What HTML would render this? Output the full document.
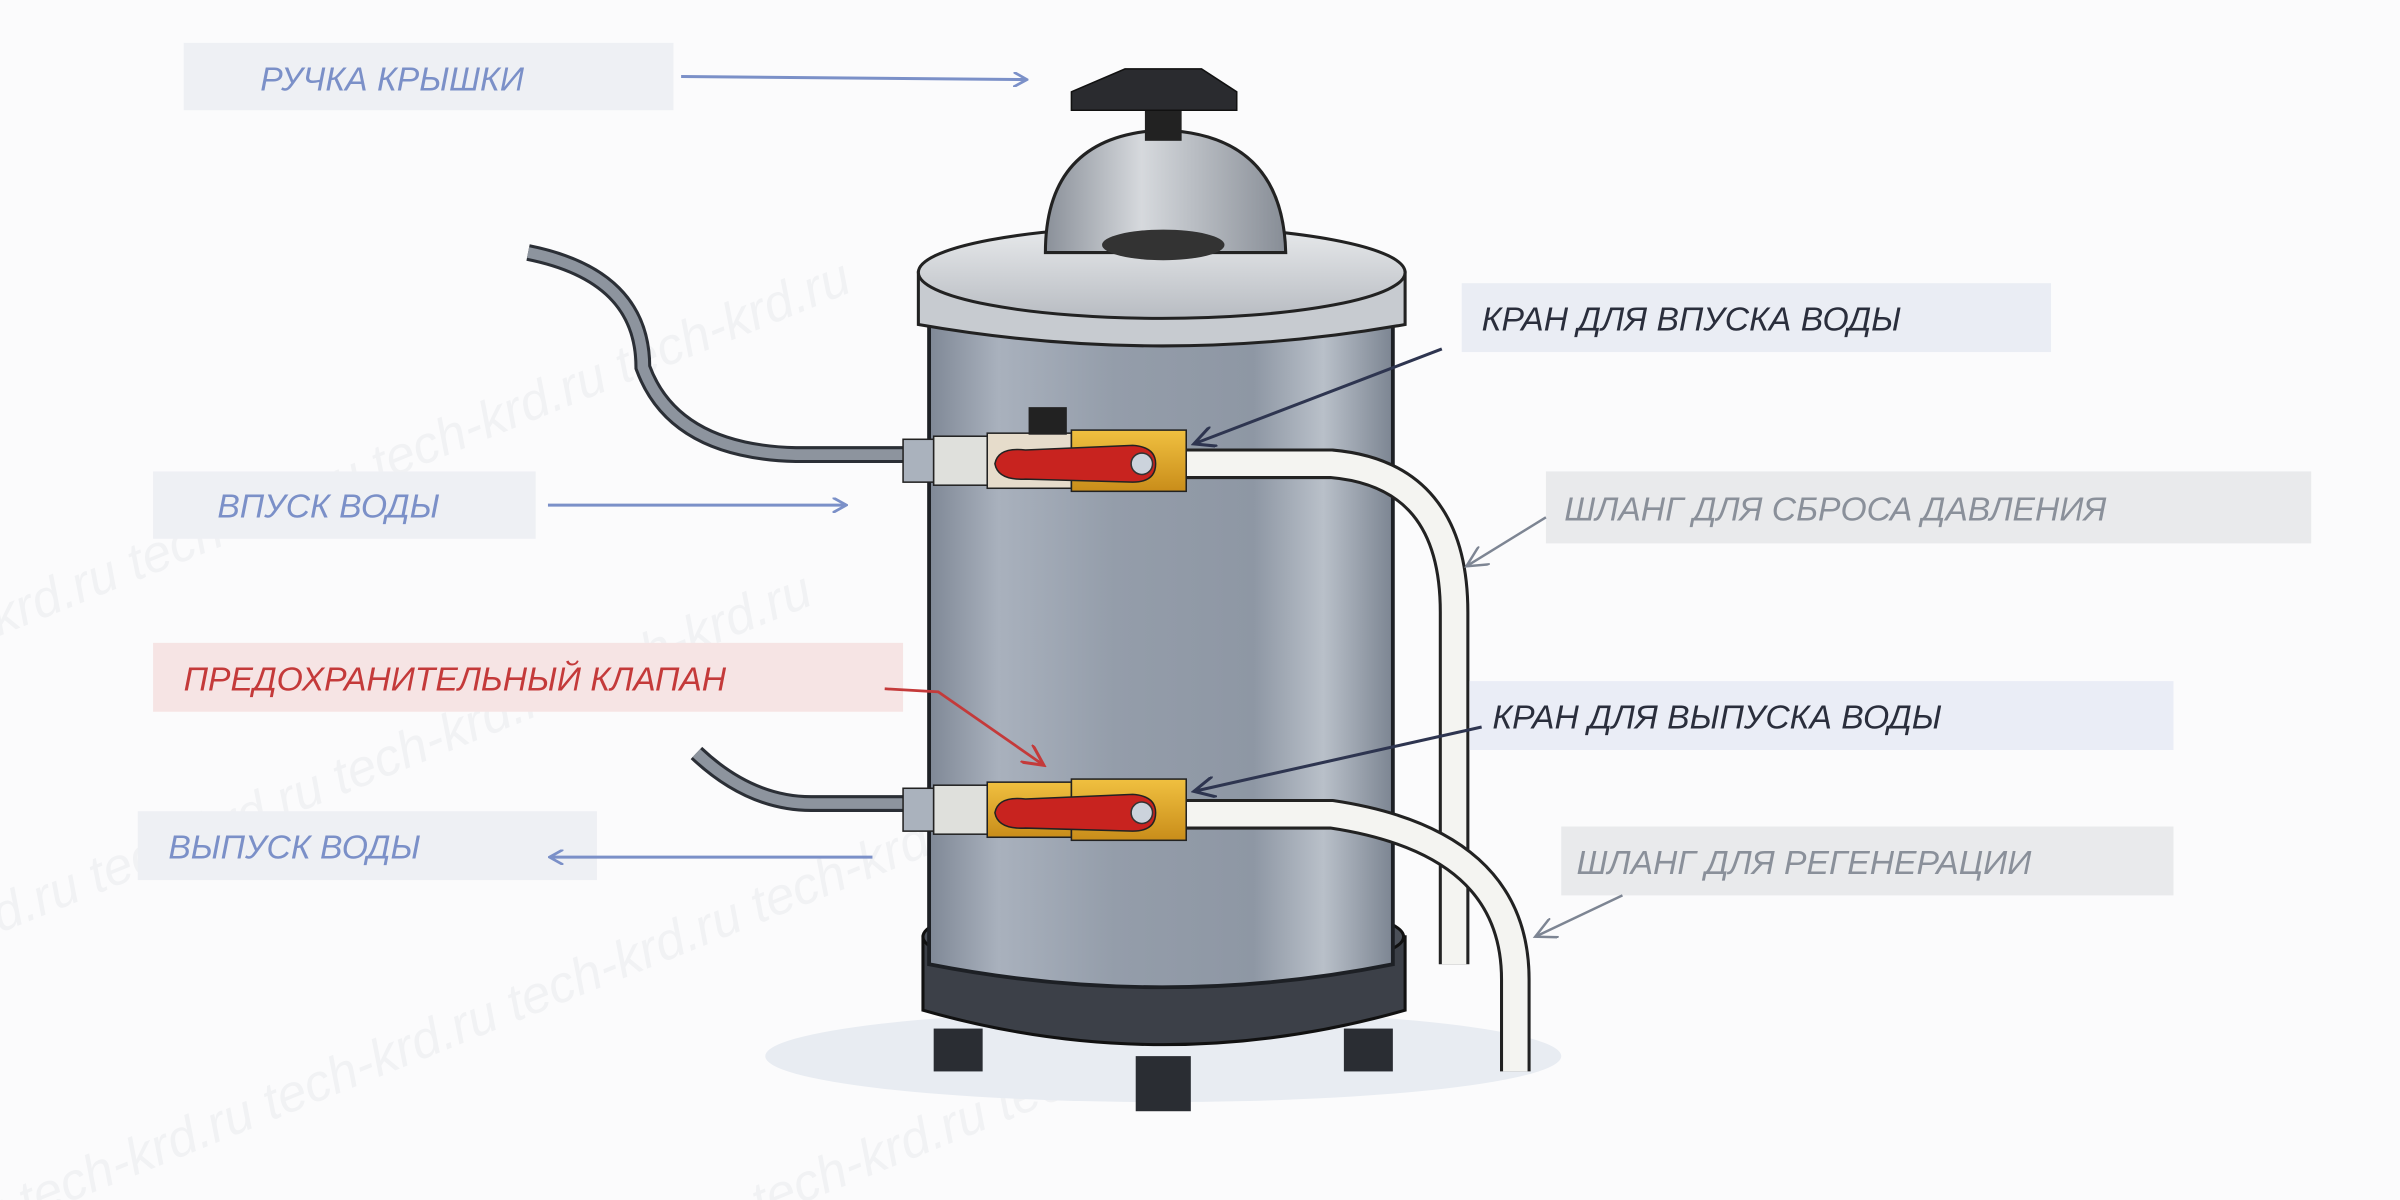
<!DOCTYPE html>
<html><head><meta charset="utf-8"><style>
html,body{margin:0;padding:0;background:#fbfbfc;width:2400px;height:1200px;overflow:hidden;}
svg{display:block;overflow:hidden}
text{font-family:"Liberation Sans","DejaVu Sans",sans-serif;font-style:italic;}
</style></head><body>
<svg width="2400" height="1200" viewBox="0 0 1568 784" xmlns="http://www.w3.org/2000/svg">
<defs>
<clipPath id="clip"><rect width="1568" height="784"/></clipPath>
<linearGradient id="body" x1="0" x2="1"><stop offset="0" stop-color="#7f8896"/><stop offset="0.15" stop-color="#a9b1bd"/><stop offset="0.4" stop-color="#949daa"/><stop offset="0.7" stop-color="#8e97a4"/><stop offset="0.85" stop-color="#b9c0c9"/><stop offset="1" stop-color="#7c8592"/></linearGradient>
<linearGradient id="lid" x1="0" y1="0" x2="0" y2="1"><stop offset="0" stop-color="#e8eaec"/><stop offset="1" stop-color="#b8bcc2"/></linearGradient>
<linearGradient id="dome" x1="0" x2="1"><stop offset="0" stop-color="#8a9099"/><stop offset="0.4" stop-color="#d6d9dd"/><stop offset="1" stop-color="#878d96"/></linearGradient>
<linearGradient id="brass" x1="0" y1="0" x2="0" y2="1"><stop offset="0" stop-color="#f0c040"/><stop offset="1" stop-color="#c98d1a"/></linearGradient>
<marker id="ab" markerWidth="10" markerHeight="10" refX="8" refY="5" orient="auto" markerUnits="userSpaceOnUse"><path d="M0,0 L9,5 L0,10" fill="none" stroke="#7b90c8" stroke-width="1.8"/></marker>
<marker id="ad" markerWidth="16" markerHeight="14" refX="14" refY="7" orient="auto" markerUnits="userSpaceOnUse"><path d="M0,0 L14,7 L0,14" fill="none" stroke="#2e3550" stroke-width="2"/></marker>
<marker id="ag" markerWidth="16" markerHeight="14" refX="14" refY="7" orient="auto" markerUnits="userSpaceOnUse"><path d="M0,0 L14,7 L0,14" fill="none" stroke="#7d8593" stroke-width="1.6"/></marker>
<marker id="ar" markerWidth="16" markerHeight="14" refX="14" refY="7" orient="auto" markerUnits="userSpaceOnUse"><path d="M0,0 L14,7 L0,14" fill="none" stroke="#c43a3a" stroke-width="2"/></marker>
</defs>
<rect width="1568" height="784" fill="#fbfbfc"/>
<g clip-path="url(#clip)">
<g fill="#f1f2f4" font-size="34" transform="rotate(-22 784 392)">
<text x="-200" y="120">tech-krd.ru    tech-krd.ru    tech-krd.ru    tech-krd.ru    tech-krd.ru</text>
<text x="-300" y="300">tech-krd.ru    tech-krd.ru    tech-krd.ru    tech-krd.ru    tech-krd.ru</text>
<text x="-250" y="480">tech-krd.ru    tech-krd.ru    tech-krd.ru    tech-krd.ru    tech-krd.ru</text>
<text x="-150" y="660">tech-krd.ru    tech-krd.ru    tech-krd.ru    tech-krd.ru    tech-krd.ru</text>
</g>
</g>
<ellipse cx="760" cy="690" rx="260" ry="30" fill="#e8ecf2"/>
<rect x="610" y="672" width="32" height="28" fill="#2a2d33"/><rect x="878" y="672" width="32" height="28" fill="#2a2d33"/><rect x="742" y="690" width="36" height="36" fill="#2a2d33"/>
<path d="M603,612 L603,660 Q760,705 918,660 L918,612 Z" fill="#3c4048" stroke="#111" stroke-width="2"/>
<ellipse cx="760" cy="612" rx="157" ry="26" fill="#4b5059" stroke="#111" stroke-width="2"/>
<path d="M607,190 L607,630 Q760,660 910,630 L910,190 Z" fill="url(#body)" stroke="#1d2025" stroke-width="2.5"/>
<path d="M600,178 L600,212 Q760,240 918,212 L918,178 Z" fill="#c7cbd0" stroke="#222" stroke-width="2"/>
<ellipse cx="759" cy="178" rx="159" ry="30" fill="url(#lid)" stroke="#222" stroke-width="2"/>
<path d="M683,165 Q683,88 760,85 Q838,88 840,165 Z" fill="url(#dome)" stroke="#222" stroke-width="2"/>
<ellipse cx="760" cy="160" rx="40" ry="10" fill="#333"/>
<rect x="748" y="60" width="24" height="32" fill="#222"/>
<path d="M700,60 L735,45 L785,45 L808,60 L808,72 L700,72 Z" fill="#2a2b2f" stroke="#111"/>
<path d="M345,165 Q420,180 420,240 Q440,295 520,297 L592,297" fill="none" stroke="#2b2f36" stroke-width="11"/>
<path d="M345,165 Q420,180 420,240 Q440,295 520,297 L592,297" fill="none" stroke="#8d949e" stroke-width="7"/>
<path d="M455,492 Q490,525 530,525 L592,525" fill="none" stroke="#2b2f36" stroke-width="11"/>
<path d="M455,492 Q490,525 530,525 L592,525" fill="none" stroke="#8d949e" stroke-width="7"/>
<path d="M770,303 L870,303 Q950,310 950,400 L950,630" fill="none" stroke="#222" stroke-width="20"/>
<path d="M770,303 L870,303 Q950,310 950,400 L950,630" fill="none" stroke="#f4f4f1" stroke-width="16"/>
<path d="M770,532 L870,532 Q990,550 990,640 L990,700" fill="none" stroke="#222" stroke-width="20"/>
<path d="M770,532 L870,532 Q990,550 990,640 L990,700" fill="none" stroke="#f4f4f1" stroke-width="16"/>
<g>
<rect x="590" y="287" width="20" height="28" fill="#aab2bd" stroke="#222"/>
<rect x="610" y="285" width="35" height="32" fill="#dfe0dc" stroke="#222"/>
<rect x="645" y="283" width="55" height="36" fill="#e6dccb" stroke="#222"/>
<rect x="700" y="281" width="75" height="40" fill="url(#brass)" stroke="#222"/>
<path d="M650,303 Q652,292 670,294 L740,291 Q755,292 755,303 Q755,315 740,315 L670,313 Q652,314 650,303 Z" fill="#c8231f" stroke="#222"/>
<circle cx="746" cy="303" r="7" fill="#ccd3dc" stroke="#333"/>
<rect x="672" y="266" width="25" height="18" fill="#222"/>
</g>
<g>
<rect x="590" y="515" width="20" height="28" fill="#aab2bd" stroke="#222"/>
<rect x="610" y="513" width="35" height="32" fill="#dfe0dc" stroke="#222"/>
<rect x="645" y="511" width="55" height="36" fill="url(#brass)" stroke="#222"/>
<rect x="700" y="509" width="75" height="40" fill="url(#brass)" stroke="#222"/>
<path d="M650,531 Q652,520 670,522 L740,519 Q755,520 755,531 Q755,543 740,543 L670,541 Q652,542 650,531 Z" fill="#c8231f" stroke="#222"/>
<circle cx="746" cy="531" r="7" fill="#ccd3dc" stroke="#333"/>
</g>
<rect x="120" y="28" width="320" height="44" fill="#eef0f4"/>
<text x="170" y="59" font-size="22" fill="#7b90c8">РУЧКА КРЫШКИ</text>
<line x1="445" y1="50" x2="670" y2="52" stroke="#7b90c8" stroke-width="2" marker-end="url(#ab)"/>
<rect x="955" y="185" width="385" height="45" fill="#eaedf4"/>
<text x="968" y="216" font-size="22" fill="#2a2e3c">КРАН ДЛЯ ВПУСКА ВОДЫ</text>
<line x1="942" y1="228" x2="780" y2="290" stroke="#2e3550" stroke-width="2" marker-end="url(#ad)"/>
<rect x="1010" y="308" width="500" height="47" fill="#e9eaec"/>
<text x="1022" y="340" font-size="22" fill="#8a909a">ШЛАНГ ДЛЯ СБРОСА ДАВЛЕНИЯ</text>
<line x1="1010" y1="338" x2="958" y2="370" stroke="#7d8593" stroke-width="1.6" marker-end="url(#ag)"/>
<rect x="100" y="308" width="250" height="44" fill="#eef0f4"/>
<text x="142" y="338" font-size="22" fill="#7b90c8">ВПУСК ВОДЫ</text>
<line x1="358" y1="330" x2="552" y2="330" stroke="#7b90c8" stroke-width="2" marker-end="url(#ab)"/>
<rect x="100" y="420" width="490" height="45" fill="#f6e4e4"/>
<text x="120" y="451" font-size="22" fill="#c43a3a">ПРЕДОХРАНИТЕЛЬНЫЙ КЛАПАН</text>
<path d="M578,450 L613,452 L682,500" fill="none" stroke="#c43a3a" stroke-width="1.8" marker-end="url(#ar)"/>
<rect x="960" y="445" width="460" height="45" fill="#eaedf6"/>
<text x="975" y="476" font-size="22" fill="#2a2e3c">КРАН ДЛЯ ВЫПУСКА ВОДЫ</text>
<line x1="968" y1="475" x2="780" y2="517" stroke="#2e3550" stroke-width="2" marker-end="url(#ad)"/>
<rect x="90" y="530" width="300" height="45" fill="#eef0f4"/>
<text x="110" y="561" font-size="22" fill="#7b90c8">ВЫПУСК ВОДЫ</text>
<line x1="570" y1="560" x2="360" y2="560" stroke="#7b90c8" stroke-width="2" marker-end="url(#ab)"/>
<rect x="1020" y="540" width="400" height="45" fill="#e9eaec"/>
<text x="1030" y="571" font-size="22" fill="#8a909a">ШЛАНГ ДЛЯ РЕГЕНЕРАЦИИ</text>
<line x1="1060" y1="585" x2="1003" y2="612" stroke="#7d8593" stroke-width="1.6" marker-end="url(#ag)"/>
</svg>
</body></html>
